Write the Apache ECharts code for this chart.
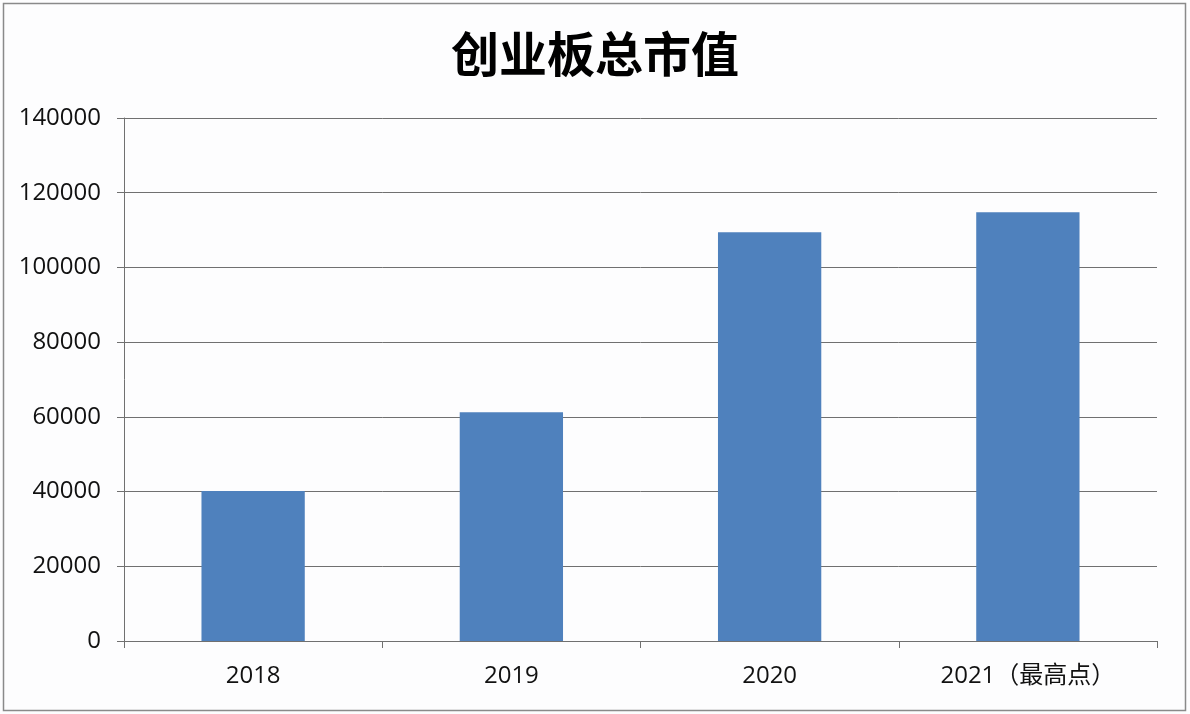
<!DOCTYPE html>
<html><head><meta charset="utf-8">
<script src="https://cdn.jsdelivr.net/npm/echarts@6/dist/echarts.min.js"></script>
<style>html,body{margin:0;padding:0;background:#fff;}#c{width:1190px;height:714px;}</style>
</head><body><div id="c"></div>
<script>
const titleText = '创业板总市值';
const categories = ['2018', '2019', '2020', '2021（最高点）'];
const values = [40150, 61200, 109400, 114800];
const yTicks = {min: 0, max: 140000, interval: 20000};

const chart = echarts.init(document.getElementById('c'));
chart.setOption({
  backgroundColor: '#fdfdfe',
  animation: false,
  graphic: [{type: 'rect', shape: {x: 3.5, y: 3.5, width: 1182, height: 707}, style: {fill: 'none', stroke: '#8a8a8a', lineWidth: 1.5}, silent: true}],
  title: {text: titleText, left: 'center', top: 25, textStyle: {fontFamily: 'Noto Sans CJK SC', fontWeight: 'bold', fontSize: 48, color: '#000'}},
  grid: {left: 124, right: 33, top: 118, bottom: 73, containLabel: false},
  xAxis: {type: 'category', data: categories,
    axisLine: {lineStyle: {color: '#707070', width: 1}},
    axisTick: {show: true, length: 7, lineStyle: {color: '#707070'}},
    axisLabel: {color: '#111', fontSize: 24, fontFamily: 'Open Sans, Noto Sans CJK SC', margin: 23}},
  yAxis: {type: 'value', min: yTicks.min, max: yTicks.max, interval: yTicks.interval,
    axisLine: {show: true, lineStyle: {color: '#707070', width: 1}},
    axisTick: {show: true, length: 7, lineStyle: {color: '#707070'}},
    splitLine: {lineStyle: {color: '#707070', width: 1}},
    axisLabel: {color: '#111', fontSize: 24, fontFamily: 'Open Sans', margin: 23, formatter: v => String(v)}},
  series: [{type: 'bar', data: values, barWidth: '40%', itemStyle: {color: '#4f81bd'}}]
});
</script></body></html>
